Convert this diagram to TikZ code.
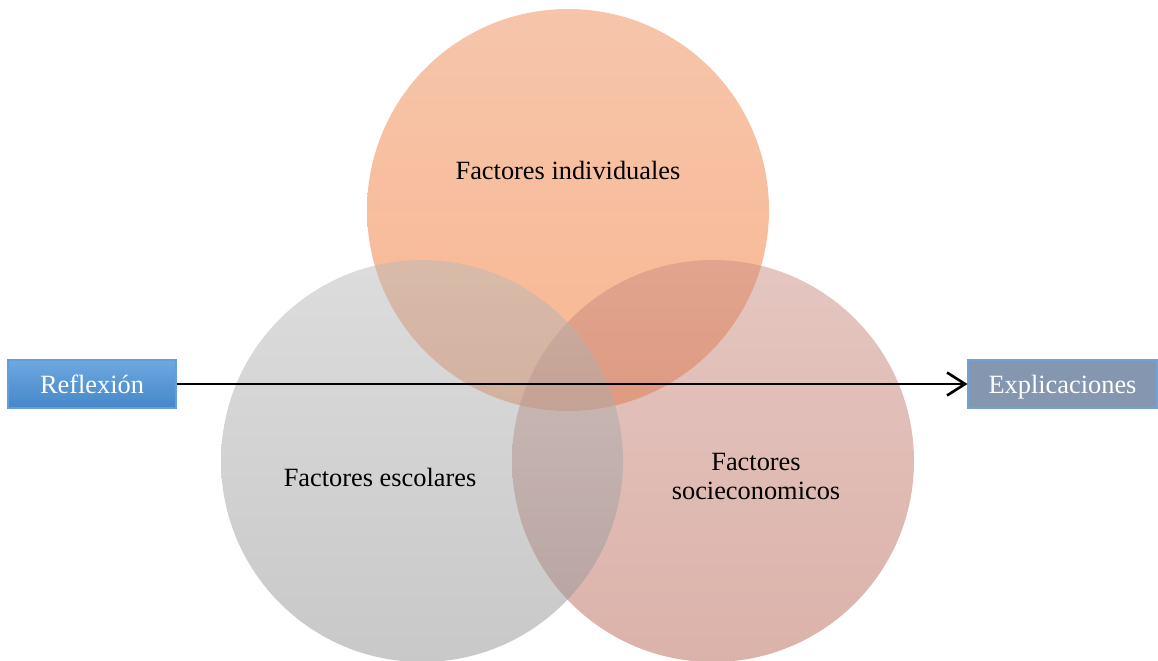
\documentclass[tikz,border=0pt]{standalone}
\usepackage{fontspec}
\setmainfont{Liberation Serif}
\usetikzlibrary{arrows.meta}

\definecolor{indivtop}{RGB}{237,139,85}
\definecolor{indivbot}{RGB}{244,112,38}
\definecolor{escoltop}{RGB}{186,186,186}
\definecolor{escolbot}{RGB}{146,146,146}
\definecolor{sociotop}{RGB}{203,141,129}
\definecolor{sociobot}{RGB}{183,102,86}
\definecolor{refltop}{RGB}{110,168,224}
\definecolor{reflbot}{RGB}{68,135,200}
\definecolor{reflline}{RGB}{98,158,218}
\definecolor{explfill}{RGB}{132,150,176}
\definecolor{explline}{RGB}{112,162,216}

\begin{document}
\begin{tikzpicture}[x=0.2mm, y=-0.2mm,
    every node/.style={font=\fontsize{15}{16.5}\selectfont},
    sidebox/.style={minimum height=9.6mm, inner sep=0pt, text height=4.8mm, text depth=1mm, text=white, line width=0.6pt}]
  \useasboundingbox (0,0) rectangle (1158,661);
  % the three circles
  \shade[top color=indivtop, bottom color=indivbot, opacity=0.5] (568,210) circle[radius=201];
  \shade[top color=sociotop, bottom color=sociobot, opacity=0.5] (713,461) circle[radius=201];
  \shade[top color=escoltop, bottom color=escolbot, opacity=0.5] (422,461) circle[radius=201];
  \node (indiv) at (568,170) {Factores individuales};
  \node (escol) at (380,477) {Factores escolares};
  \node[align=center] (socio) at (756,476) {Factores\\socieconomicos};
  % side boxes
  \node[sidebox, minimum width=33.6mm, top color=refltop, bottom color=reflbot, draw=reflline] (refl) at (92,384) {Reflexión};
  \node[sidebox, minimum width=37.8mm, fill=explfill, draw=explline] (expl) at (1062.5,384) {Explicaciones};
  \draw[line width=1.5pt, -{Straight Barb[length=3.6mm, width=4.6mm]}] (refl.east) -- (expl.west);
\end{tikzpicture}
\end{document}
